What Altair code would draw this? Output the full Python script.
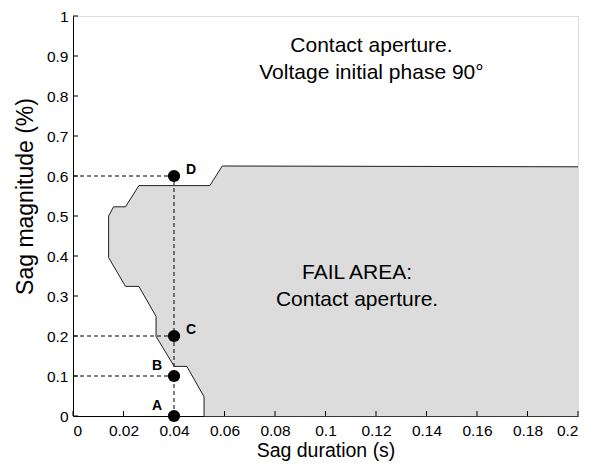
import altair as alt
import pandas as pd

# Fail-area boundary (Sag duration s, Sag magnitude)
bound_x = [0.0519, 0.0519, 0.0451, 0.0401, 0.0329, 0.0329, 0.0261, 0.0208,
           0.0141, 0.0141, 0.0161, 0.0208, 0.0261, 0.0542, 0.0591, 0.2]
bound_y = [0.0, 0.048, 0.124, 0.124, 0.199, 0.249, 0.324, 0.324,
           0.396, 0.5, 0.523, 0.523, 0.576, 0.576, 0.625, 0.623]
# closing corner of the fail area (bottom right)
corner_x = [0.2]
corner_y = [0.0]

# Test points
pt_names = ["A", "B", "C", "D"]
pt_x = [0.04, 0.04, 0.04, 0.04]
pt_y = [0.0, 0.1, 0.2, 0.6]

x_ticks = [0, 0.02, 0.04, 0.06, 0.08, 0.1, 0.12, 0.14, 0.16, 0.18, 0.2]
y_ticks = [0, 0.1, 0.2, 0.3, 0.4, 0.5, 0.6, 0.7, 0.8, 0.9, 1.0]

W, H = 505, 400
FONT = "Liberation Sans"

bdf = pd.DataFrame({"x": bound_x, "y": bound_y, "i": range(len(bound_x))})
poly_df = pd.DataFrame({"x": bound_x + corner_x, "y": bound_y + corner_y,
                        "i": range(len(bound_x) + 1)})
pdf = pd.DataFrame({"name": pt_names, "x": pt_x, "y": pt_y})

xs = alt.Scale(domain=[0, 0.2], nice=False, zero=False)
ys = alt.Scale(domain=[0, 1], nice=False, zero=False)

xaxis = alt.Axis(values=x_ticks, tickCount=len(x_ticks), format="~g", grid=False,
                 tickSize=0, labelPadding=7, labelOverlap=False,
                 domainColor="#000", labelColor="#000", labelFontSize=15.5, labelFont=FONT,
                 title="Sag duration (s)", titleFont=FONT, titleFontSize=19.5,
                 titleFontWeight="normal", titleColor="#000", titlePadding=3)
yaxis = alt.Axis(values=y_ticks, tickCount=len(y_ticks), format="~g", grid=False,
                 tickSize=0, labelPadding=5, labelOverlap=False,
                 domainColor="#000", labelColor="#000", labelFontSize=15.5, labelFont=FONT,
                 title="Sag magnitude (%)", titleFont=FONT, titleFontSize=23,
                 titleFontWeight="normal", titleColor="#000", titlePadding=9,
                 titleY=180)

fill = alt.Chart(poly_df).mark_line(fill="#dcdcdc", stroke="#dcdcdc", strokeWidth=0.5,
                                     interpolate="linear-closed").encode(
    x=alt.X("x:Q", scale=xs, axis=xaxis),
    y=alt.Y("y:Q", scale=ys, axis=yaxis),
    order="i:Q",
)

outline = alt.Chart(bdf).mark_line(color="#222", strokeWidth=1).encode(
    x=alt.X("x:Q", scale=xs), y=alt.Y("y:Q", scale=ys), order="i:Q"
)

# dashed guide lines
vdf = pd.DataFrame({"x": [pt_x[0]], "x2": [pt_x[0]], "y": [pt_y[0]], "y2": [pt_y[-1]]})
hdf = pd.DataFrame({"x": [0.0] * 3, "x2": pt_x[1:], "y": pt_y[1:], "y2": pt_y[1:]})
gdf = pd.concat([vdf, hdf], ignore_index=True)
guides = alt.Chart(gdf).mark_rule(color="#000", strokeDash=[4, 3], strokeWidth=1).encode(
    x=alt.X("x:Q", scale=xs), x2="x2:Q", y=alt.Y("y:Q", scale=ys), y2="y2:Q"
)

points = alt.Chart(pdf).mark_point(filled=True, color="#000", size=150, opacity=1).encode(
    x=alt.X("x:Q", scale=xs), y=alt.Y("y:Q", scale=ys)
)
left_lbl = alt.Chart(pdf[pdf.name.isin(["A", "B"])]).mark_text(
    font=FONT, fontSize=14, fontWeight="bold", dx=-17, dy=-10, color="#000").encode(
    x=alt.X("x:Q", scale=xs), y=alt.Y("y:Q", scale=ys), text="name:N")
right_lbl = alt.Chart(pdf[pdf.name.isin(["C", "D"])]).mark_text(
    font=FONT, fontSize=14, fontWeight="bold", dx=17, dy=-6, color="#000").encode(
    x=alt.X("x:Q", scale=xs), y=alt.Y("y:Q", scale=ys), text="name:N")

# inward axis ticks
xt = alt.Chart(pd.DataFrame({"v": x_ticks})).mark_rule(color="#000").encode(
    x=alt.X("v:Q", scale=xs), y=alt.value(H), y2=alt.value(H - 5))
yt = alt.Chart(pd.DataFrame({"v": y_ticks})).mark_rule(color="#000").encode(
    y=alt.Y("v:Q", scale=ys), x=alt.value(0), x2=alt.value(5))

ann_text = ["Contact aperture.", "Voltage initial phase 90°", "FAIL AREA:", "Contact aperture."]
ann_x = [0.1182, 0.1182, 0.1125, 0.1125]
ann_y = [0.925, 0.858, 0.358, 0.291]
adf = pd.DataFrame({"t": ann_text, "x": ann_x, "y": ann_y})
ann = alt.Chart(adf).mark_text(font=FONT, fontSize=21, color="#000").encode(
    x=alt.X("x:Q", scale=xs), y=alt.Y("y:Q", scale=ys), text="t:N")

chart = alt.layer(fill, outline, guides, xt, yt, points, left_lbl, right_lbl, ann).properties(
    width=W, height=H,
    autosize=alt.AutoSizeParams(type="none"),
    padding={"left": 65, "top": 8, "right": 8, "bottom": 50},
).configure_view(stroke=None).configure(background="white")

chart.save("out.html", embed_options={"renderer": "svg", "actions": False})
